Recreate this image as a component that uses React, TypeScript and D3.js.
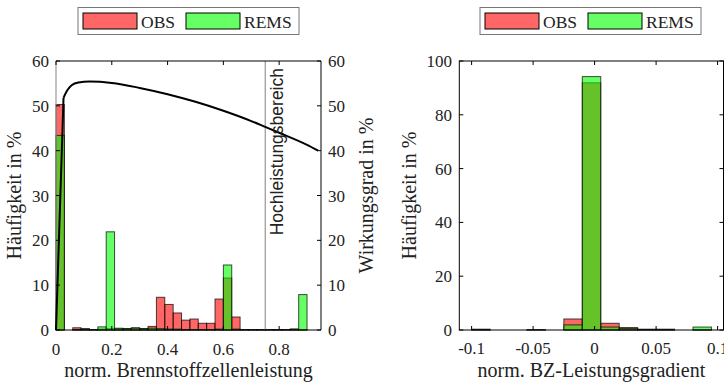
import React from 'react';
import * as d3 from 'd3';

// ---------- data: left panel (normalized fuel cell power histogram) ----------
const powerBinStarts = [0, 0.03, 0.06, 0.09, 0.12, 0.15, 0.18, 0.21, 0.24, 0.27, 0.3, 0.33, 0.36, 0.39, 0.42, 0.45, 0.48, 0.51, 0.54, 0.57, 0.6, 0.63, 0.66, 0.69, 0.72, 0.75, 0.78, 0.81, 0.84, 0.87];
const powerBinWidth = 0.03;
const powerObs = [50.3, 0, 0.5, 0.3, 0.1, 0.2, 0.3, 0.3, 0.3, 0.5, 0.3, 0.8, 7.3, 5.7, 3.8, 2.2, 2.45, 1.5, 1.5, 6.9, 11.6, 2.9, 0.1, 0.1, 0.1, 0.1, 0.1, 0.1, 0.2, 0.1];
const powerRems = [43.4, 0, 0.1, 0.2, 0.1, 0.7, 21.9, 0.4, 0.3, 0.4, 0.3, 0.4, 0.3, 0.2, 0.2, 0.1, 0.1, 0.1, 0.1, 0.2, 14.5, 0.2, 0.1, 0.1, 0.1, 0.1, 0.1, 0.1, 0.2, 7.9];

// efficiency curve (right axis)
const effPower = [0, 0.027, 0.04, 0.056, 0.08, 0.12, 0.2, 0.3, 0.4, 0.5, 0.6, 0.7, 0.75, 0.8, 0.9, 0.94];
const effValue = [0, 51.8, 53.4, 54.6, 55.2, 55.4, 55.1, 54.0, 52.6, 50.9, 48.9, 46.6, 45.3, 44.0, 41.3, 40.0];
const highLoadThreshold = 0.75;

const powerTicks = [0, 0.2, 0.4, 0.6, 0.8];
const freqTicksLeft = [0, 10, 20, 30, 40, 50, 60];
const effTicks = [0, 10, 20, 30, 40, 50, 60];

// ---------- data: right panel (normalized power gradient histogram) ----------
const gradBinStarts = [-0.1, -0.085, -0.07, -0.055, -0.04, -0.025, -0.01, 0.005, 0.02, 0.035, 0.05, 0.065, 0.08];
const gradBinWidth = 0.015;
const gradObs = [0.2, 0, 0, 0.1, 0, 4.1, 91.9, 2.5, 0.9, 0.3, 0.3, 0, 0.1];
const gradRems = [0.3, 0, 0, 0.1, 0, 1.9, 94.2, 1.1, 0.6, 0.2, 0.2, 0, 1.1];

const gradTicks = [-0.1, -0.05, 0, 0.05, 0.1];
const gradFreqTicks = [0, 20, 40, 60, 80, 100];

const seriesNames = ['OBS', 'REMS'];
const seriesColors = ['#ff0000', '#00ff00'];

const SERIF = "'Liberation Serif', 'Times New Roman', 'DejaVu Serif', serif";
const SANS = "'Liberation Sans', Arial, sans-serif";
const TICK_FS = 17;
const LABEL_FS = 20;
const TICK_LEN = 4;

const serif = (size: number) => ({ fontFamily: SERIF, fontSize: size + 'px', fill: '#222' });

function Bars({ starts, width, values, xs, ys, color }: any) {
  return (
    <g>
      {values.map((v: number, i: number) => {
        if (v <= 0) return null;
        const x0 = xs(starts[i]);
        const x1 = xs(starts[i] + width);
        return (
          <rect
            key={i}
            x={x0}
            y={ys(v)}
            width={x1 - x0}
            height={ys(0) - ys(v)}
            fill={color}
            fillOpacity={0.6}
            stroke="#000"
            strokeOpacity={0.7}
            strokeWidth={1}
          />
        );
      })}
    </g>
  );
}

function Legend({ x, y }: { x: number; y: number }) {
  return (
    <g transform={`translate(${x},${y})`}>
      <rect x={0} y={0} width={221} height={27} fill="#fff" stroke="#777" strokeWidth={1} />
      {seriesNames.map((n, i) => {
        const ox = i === 0 ? 5 : 108;
        return (
          <g key={n}>
            <rect x={ox} y={5.5} width={54} height={16} fill={seriesColors[i]} fillOpacity={0.6} stroke="#000" strokeWidth={1} />
            <text x={ox + 58} y={20.7} style={serif(17.5)}>{n}</text>
          </g>
        );
      })}
    </g>
  );
}

export default function App() {
  // left panel
  const L = { x0: 56, x1: 321, y0: 61, y1: 330 };
  const xL = d3.scaleLinear().domain([0, 0.95]).range([L.x0, L.x1]);
  const yL = d3.scaleLinear().domain([0, 60]).range([L.y1, L.y0]);
  const yE = d3.scaleLinear().domain([0, 60]).range([L.y1, L.y0]);
  const pts: [number, number][] = effPower.map((p, i) => [xL(p), yE(effValue[i])]);
  const startLine = d3.line().curve(d3.curveLinear)(pts.slice(0, 2)) || '';
  const mainLine = d3.line().curve(d3.curveMonotoneX)(pts.slice(1)) || '';

  // right panel
  const R = { x0: 459.3, x1: 723.5, y0: 61, y1: 330 };
  const xR = d3.scaleLinear().domain([-0.11, 0.1048]).range([R.x0, R.x1]);
  const yR = d3.scaleLinear().domain([0, 100]).range([R.y1, R.y0]);

  const fmt = (v: number) => String(v);

  return (
    <svg width={724} height={385} style={{ position: 'absolute', left: 0, top: 0, background: '#fff' }}>
      <rect x={0} y={0} width={724} height={385} fill="#fff" />

      {/* ===== LEFT PANEL ===== */}
      <g>
        <Bars starts={powerBinStarts} width={powerBinWidth} values={powerObs} xs={xL} ys={yL} color={seriesColors[0]} />
        <Bars starts={powerBinStarts} width={powerBinWidth} values={powerRems} xs={xL} ys={yL} color={seriesColors[1]} />
        {/* gray line at x = 0 */}
        <line x1={L.x0} x2={L.x0} y1={L.y0} y2={L.y1} stroke="#999" strokeWidth={1.2} />
        {/* high-load threshold */}
        <line x1={xL(highLoadThreshold)} x2={xL(highLoadThreshold)} y1={L.y0} y2={L.y1} stroke="#808080" strokeWidth={1} />
        <path d={startLine} fill="none" stroke="#000" strokeWidth={2} />
        <path d={mainLine} fill="none" stroke="#000" strokeWidth={2} strokeLinejoin="round" />
        <text
          transform={`translate(${xL(highLoadThreshold) + 17.5},${L.y0 + 7}) rotate(-90)`}
          textAnchor="end"
          style={{ fontFamily: SANS, fontSize: '17.5px', fill: '#222' }}
        >
          Hochleistungsbereich
        </text>
        {/* frame */}
        <line x1={L.x0} x2={L.x1} y1={L.y0} y2={L.y0} stroke="#000" />
        <line x1={L.x0} x2={L.x1} y1={L.y1} y2={L.y1} stroke="#000" />
        <line x1={L.x1} x2={L.x1} y1={L.y0} y2={L.y1} stroke="#000" />
        {/* x ticks */}
        {powerTicks.map((t) => (
          <g key={t}>
            <line x1={xL(t)} x2={xL(t)} y1={L.y1} y2={L.y1 - TICK_LEN} stroke="#000" />
            <line x1={xL(t)} x2={xL(t)} y1={L.y0} y2={L.y0 + TICK_LEN} stroke="#000" />
            <text x={xL(t)} y={354.5} textAnchor="middle" style={serif(TICK_FS)}>{fmt(t)}</text>
          </g>
        ))}
        {/* left y ticks */}
        {freqTicksLeft.map((t) => (
          <g key={t}>
            <line x1={L.x0} x2={L.x0 + TICK_LEN} y1={yL(t)} y2={yL(t)} stroke="#000" />
            <text x={49} y={yL(t) + 6} textAnchor="end" style={serif(TICK_FS)}>{t}</text>
          </g>
        ))}
        {/* right y ticks */}
        {effTicks.map((t) => (
          <g key={t}>
            <line x1={L.x1} x2={L.x1 - TICK_LEN} y1={yE(t)} y2={yE(t)} stroke="#000" />
            <text x={328} y={yE(t) + 6} textAnchor="start" style={serif(TICK_FS)}>{t}</text>
          </g>
        ))}
        <text x={(L.x0 + L.x1) / 2} y={377} textAnchor="middle" style={serif(LABEL_FS)}>
          norm. Brennstoffzellenleistung
        </text>
        <text transform={`translate(21,${(L.y0 + L.y1) / 2}) rotate(-90)`} textAnchor="middle" style={serif(LABEL_FS)}>
          Häufigkeit in %
        </text>
        <text transform={`translate(373,${(L.y0 + L.y1) / 2}) rotate(-90)`} textAnchor="middle" style={serif(LABEL_FS)}>
          Wirkungsgrad in %
        </text>
        <Legend x={78} y={7.5} />
      </g>

      {/* ===== RIGHT PANEL ===== */}
      <g>
        <Bars starts={gradBinStarts} width={gradBinWidth} values={gradObs} xs={xR} ys={yR} color={seriesColors[0]} />
        <Bars starts={gradBinStarts} width={gradBinWidth} values={gradRems} xs={xR} ys={yR} color={seriesColors[1]} />
        <rect x={R.x0} y={R.y0} width={R.x1 - R.x0} height={R.y1 - R.y0} fill="none" stroke="#000" />
        {gradTicks.map((t) => (
          <g key={t}>
            <line x1={xR(t)} x2={xR(t)} y1={R.y1} y2={R.y1 - TICK_LEN} stroke="#000" />
            <line x1={xR(t)} x2={xR(t)} y1={R.y0} y2={R.y0 + TICK_LEN} stroke="#000" />
            <text x={xR(t)} y={354} textAnchor="middle" style={serif(TICK_FS)}>{fmt(t)}</text>
          </g>
        ))}
        {gradFreqTicks.map((t) => (
          <g key={t}>
            <line x1={R.x0} x2={R.x0 + TICK_LEN} y1={yR(t)} y2={yR(t)} stroke="#000" />
            <line x1={R.x1} x2={R.x1 - TICK_LEN} y1={yR(t)} y2={yR(t)} stroke="#000" />
            <text x={452} y={yR(t) + 6} textAnchor="end" style={serif(TICK_FS)}>{t}</text>
          </g>
        ))}
        <text x={(R.x0 + R.x1) / 2} y={377} textAnchor="middle" style={serif(LABEL_FS)}>
          norm. BZ-Leistungsgradient
        </text>
        <text transform={`translate(416,${(R.y0 + R.y1) / 2}) rotate(-90)`} textAnchor="middle" style={serif(LABEL_FS)}>
          Häufigkeit in %
        </text>
        <Legend x={480} y={7.5} />
      </g>
    </svg>
  );
}
